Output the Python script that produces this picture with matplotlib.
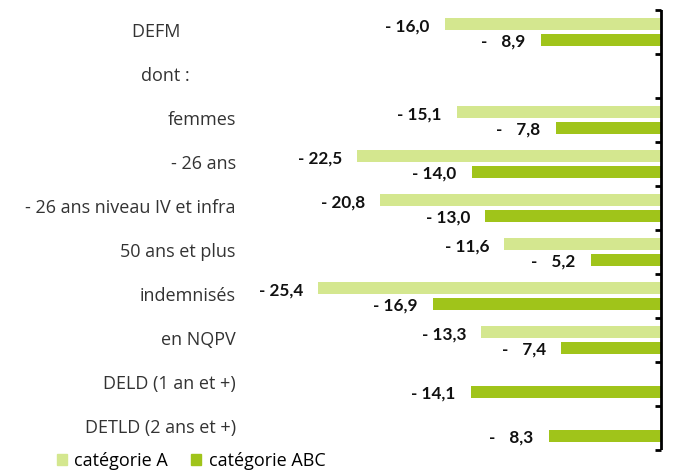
import matplotlib

matplotlib.use("Agg")
import matplotlib.pyplot as plt  # noqa: E402
import numpy as np  # noqa: E402
from matplotlib.patches import Patch  # noqa: E402
from matplotlib.transforms import ScaledTranslation  # noqa: E402

categories = [
    "DEFM",
    "dont :",
    "femmes",
    "- 26 ans",
    "- 26 ans niveau IV et infra",
    "50 ans et plus",
    "indemnisés",
    "en NQPV",
    "DELD (1 an et +)",
    "DETLD (2 ans et +)",
]
cat_a = [-16.0, None, -15.1, -22.5, -20.8, -11.6, -25.4, -13.3, None, None]
cat_abc = [-8.9, None, -7.8, -14.0, -13.0, -5.2, -16.9, -7.4, -14.1, -8.3]
series_names = ["catégorie A", "catégorie ABC"]

LIGHT = "#d4e78f"
DARK = "#a0c41a"
PX = 13.5  # pixels par point de %

plt.rcParams["font.family"] = ["Open Sans", "DejaVu Sans"]

fig = plt.figure(figsize=(6.77, 4.71), dpi=100)
ax = fig.add_axes([240 / 677, 21 / 471, 423 / 677, 440 / 471])

y = np.arange(len(categories))
h = 0.27
off = 0.18


def fmt(v):
    return f"- {abs(v):4.1f}".replace(".", ",").replace("  ", " \u2007")


for vals, color, dy in ((cat_a, LIGHT, -off), (cat_abc, DARK, off)):
    for i, v in enumerate(vals):
        if v is None:
            continue
        ax.barh(y[i] + dy, v, height=h, color=color, edgecolor="none", zorder=1)
        ax.annotate(fmt(v), (v, y[i] + dy), xytext=(-11, -1.5), textcoords="offset points",
                    ha="right", va="center", fontsize=12.3, fontweight="bold", color="#111111",
                    family=["Lato", "DejaVu Sans"])

ax.set_xlim(-421 / PX, 2 / PX)
ax.set_ylim(len(categories) - 0.5, -0.5)

# les deux premiers libellés sont décalés vers la gauche dans l'original
labels = list(categories)
labels[0] = labels[0] + " " * 12
labels[1] = labels[1] + " " * 10
ax.set_yticks(y)
ax.set_yticklabels(labels, fontsize=13, color="#333333")
ax.tick_params(axis="y", which="major", length=0, pad=3, right=False)
ax.set_xticks([])
shift = ScaledTranslation(0, 2 / 100, fig.dpi_scale_trans)
for lbl in ax.get_yticklabels():
    lbl.set_transform(lbl.get_transform() + shift)

# axe vertical à droite avec petites graduations entre catégories
ax.axvline(0, color="black", lw=2, zorder=5)
for b in np.arange(-0.5, len(categories)):
    ax.plot([-6 / PX, 0], [b, b], color="black", lw=2, zorder=5,
            solid_capstyle="butt", clip_on=False)

for s in ax.spines.values():
    s.set_visible(False)

handles = [Patch(color=LIGHT), Patch(color=DARK)]
fig.legend(handles, series_names, loc="center left", bbox_to_anchor=(57 / 677, 1 - 461 / 471),
           ncol=2, frameon=False, fontsize=13, handlelength=0.55, handleheight=0.55,
           handletextpad=0.4, columnspacing=1.3, borderaxespad=0, borderpad=0)

fig.savefig("out.png", dpi=100)
